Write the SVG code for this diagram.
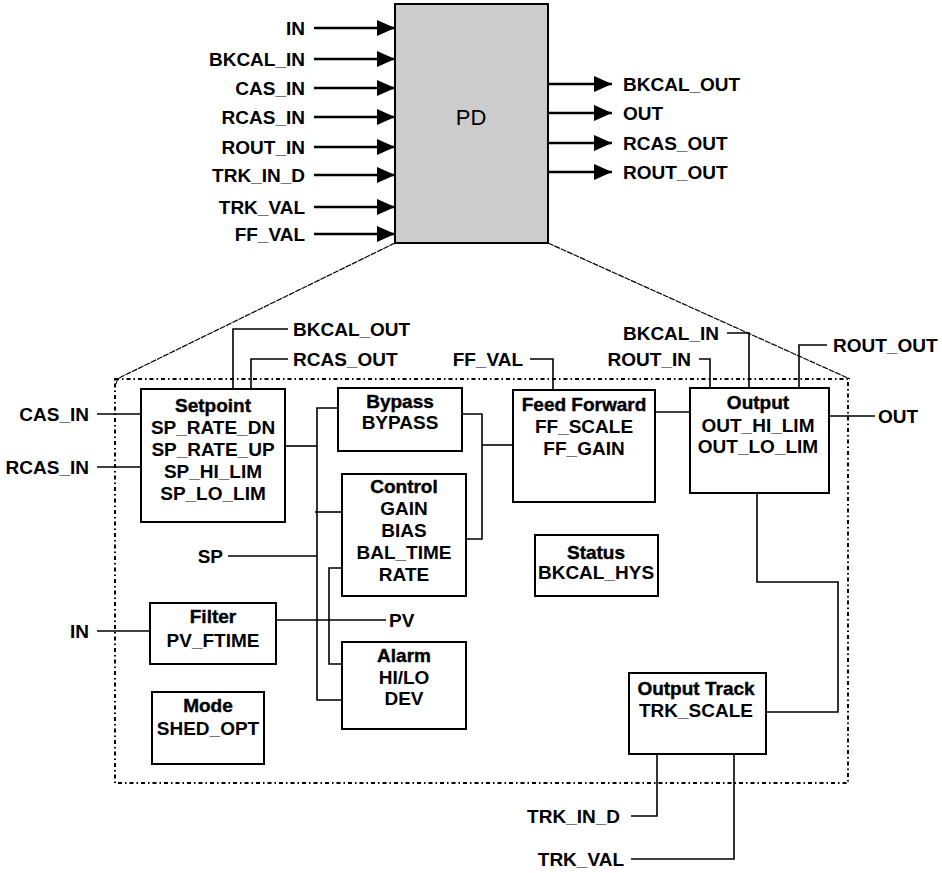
<svg xmlns="http://www.w3.org/2000/svg" width="942" height="873" viewBox="0 0 942 873">
<defs>
<marker id="arr" markerUnits="userSpaceOnUse" markerWidth="18" markerHeight="16" refX="18" refY="8" orient="auto">
<path d="M0,0 L18,8 L0,16 z" fill="#000"/>
</marker>
<style>
text{font-family:"Liberation Sans",Arial,sans-serif;font-weight:bold;font-size:19px;fill:#000}
.t{stroke:#000;stroke-width:0.4}
.c{text-anchor:middle}
.e{text-anchor:end}
.box{fill:#fff;stroke:#000;stroke-width:2}
.ln{fill:none;stroke:#000;stroke-width:1.6}
.io{fill:none;stroke:#000;stroke-width:2.6}
.frame{fill:none;stroke:#000;stroke-width:2;stroke-dasharray:4,3,1.5,3}
.zoom{fill:none;stroke:#000;stroke-width:1.2;stroke-dasharray:6,1}
</style>
</defs>
<rect width="942" height="873" fill="#fff"/>

<g id="pd">
<rect x="395" y="4" width="153" height="239" fill="#cccccc" stroke="#000" stroke-width="2"/>
<text x="471" y="125" class="c" style="font-weight:normal;font-size:22px">PD</text>
</g>

<g id="frame">
<rect class="frame" x="115" y="379" width="733" height="404"/>
<path class="zoom" d="M395,243 L121,377 Q116,380 116,385"/>
<path class="zoom" d="M548,243 L850,379"/>
</g>

<g id="pd-ports">
<g class="io">
<path d="M314,28 H395" marker-end="url(#arr)"/>
<path d="M314,59 H395" marker-end="url(#arr)"/>
<path d="M314,88 H395" marker-end="url(#arr)"/>
<path d="M314,117 H395" marker-end="url(#arr)"/>
<path d="M314,147 H395" marker-end="url(#arr)"/>
<path d="M314,175 H395" marker-end="url(#arr)"/>
<path d="M314,207 H395" marker-end="url(#arr)"/>
<path d="M314,234 H395" marker-end="url(#arr)"/>
<path d="M548,84 H612" marker-end="url(#arr)"/>
<path d="M548,113 H612" marker-end="url(#arr)"/>
<path d="M548,143 H612" marker-end="url(#arr)"/>
<path d="M548,172 H612" marker-end="url(#arr)"/>
</g>
<text x="305" y="35" class="e">IN</text>
<text x="305" y="66" class="e">BKCAL_IN</text>
<text x="305" y="95" class="e">CAS_IN</text>
<text x="305" y="124" class="e">RCAS_IN</text>
<text x="305" y="154" class="e">ROUT_IN</text>
<text x="305" y="182" class="e">TRK_IN_D</text>
<text x="305" y="214" class="e">TRK_VAL</text>
<text x="305" y="241" class="e">FF_VAL</text>
<text x="623" y="91">BKCAL_OUT</text>
<text x="623" y="120">OUT</text>
<text x="623" y="150">RCAS_OUT</text>
<text x="623" y="179">ROUT_OUT</text>
</g>

<g id="connectors" class="ln">
<path d="M233,389 V329 H288"/>
<path d="M251,389 V359 H288"/>
<path d="M97,414 H141"/>
<path d="M97,467 H141"/>
<path d="M285,446 H317"/>
<path d="M338,408 H317 V700 H342"/>
<path d="M315,512 H342"/>
<path d="M228,556 H317"/>
<path d="M342,568 H329 V664 H342"/>
<path d="M276,620 H386"/>
<path d="M97,631 H150"/>
<path d="M462,414 H482 V539 H466"/>
<path d="M482,445 H513"/>
<path d="M530,359 H553 V390"/>
<path d="M655,412 H690"/>
<path d="M699,359 H710 V388"/>
<path d="M727,333 H749 V388"/>
<path d="M827,345 H799 V388"/>
<path d="M829,416 H875"/>
<path d="M757,493 V582 H838 V712 H766"/>
<path d="M631,816 H657 V754"/>
<path d="M631,859 H734 V754"/>
</g>

<g id="port-labels">
<text x="293" y="336">BKCAL_OUT</text>
<text x="293" y="366">RCAS_OUT</text>
<text x="89" y="421" class="e">CAS_IN</text>
<text x="89" y="474" class="e">RCAS_IN</text>
<text x="223" y="563" class="e">SP</text>
<text x="89" y="638" class="e">IN</text>
<text x="389" y="627">PV</text>
<text x="523" y="366" class="e">FF_VAL</text>
<text x="691" y="366" class="e">ROUT_IN</text>
<text x="719" y="340" class="e">BKCAL_IN</text>
<text x="833" y="352">ROUT_OUT</text>
<text x="878" y="423">OUT</text>
<text x="620" y="823" class="e">TRK_IN_D</text>
<text x="624" y="866" class="e">TRK_VAL</text>
</g>

<g id="setpoint">
<rect class="box" x="141" y="389" width="144" height="133"/>
<text x="213" y="412" class="c t">Setpoint</text>
<text x="213" y="434" class="c">SP_RATE_DN</text>
<text x="213" y="456" class="c">SP_RATE_UP</text>
<text x="213" y="478" class="c">SP_HI_LIM</text>
<text x="213" y="500" class="c">SP_LO_LIM</text>
</g>

<g id="bypass">
<rect class="box" x="338" y="388" width="124" height="63"/>
<text x="400" y="408" class="c t">Bypass</text>
<text x="400" y="429" class="c">BYPASS</text>
</g>

<g id="control">
<rect class="box" x="342" y="474" width="124" height="122"/>
<text x="404" y="493" class="c t">Control</text>
<text x="404" y="515" class="c">GAIN</text>
<text x="404" y="537" class="c">BIAS</text>
<text x="404" y="559" class="c">BAL_TIME</text>
<text x="404" y="581" class="c">RATE</text>
</g>

<g id="alarm">
<rect class="box" x="342" y="642" width="124" height="87"/>
<text x="404" y="662" class="c t">Alarm</text>
<text x="404" y="684" class="c">HI/LO</text>
<text x="404" y="705" class="c">DEV</text>
</g>

<g id="filter">
<rect class="box" x="150" y="603" width="126" height="61"/>
<text x="213" y="623" class="c t">Filter</text>
<text x="213" y="647" class="c">PV_FTIME</text>
</g>

<g id="mode">
<rect class="box" x="152" y="692" width="112" height="72"/>
<text x="208" y="712" class="c t">Mode</text>
<text x="208" y="735" class="c">SHED_OPT</text>
</g>

<g id="feed-forward">
<rect class="box" x="513" y="390" width="142" height="112"/>
<text x="584" y="411" class="c t">Feed Forward</text>
<text x="584" y="433" class="c">FF_SCALE</text>
<text x="584" y="455" class="c">FF_GAIN</text>
</g>

<g id="output">
<rect class="box" x="690" y="388" width="139" height="105"/>
<text x="758" y="409" class="c t">Output</text>
<text x="758" y="432" class="c">OUT_HI_LIM</text>
<text x="758" y="453" class="c">OUT_LO_LIM</text>
</g>

<g id="status">
<rect class="box" x="535" y="535" width="123" height="61"/>
<text x="596" y="559" class="c t">Status</text>
<text x="596" y="579" class="c">BKCAL_HYS</text>
</g>

<g id="output-track">
<rect class="box" x="629" y="673" width="137" height="81"/>
<text x="696" y="695" class="c t">Output Track</text>
<text x="696" y="717" class="c">TRK_SCALE</text>
</g>
</svg>
